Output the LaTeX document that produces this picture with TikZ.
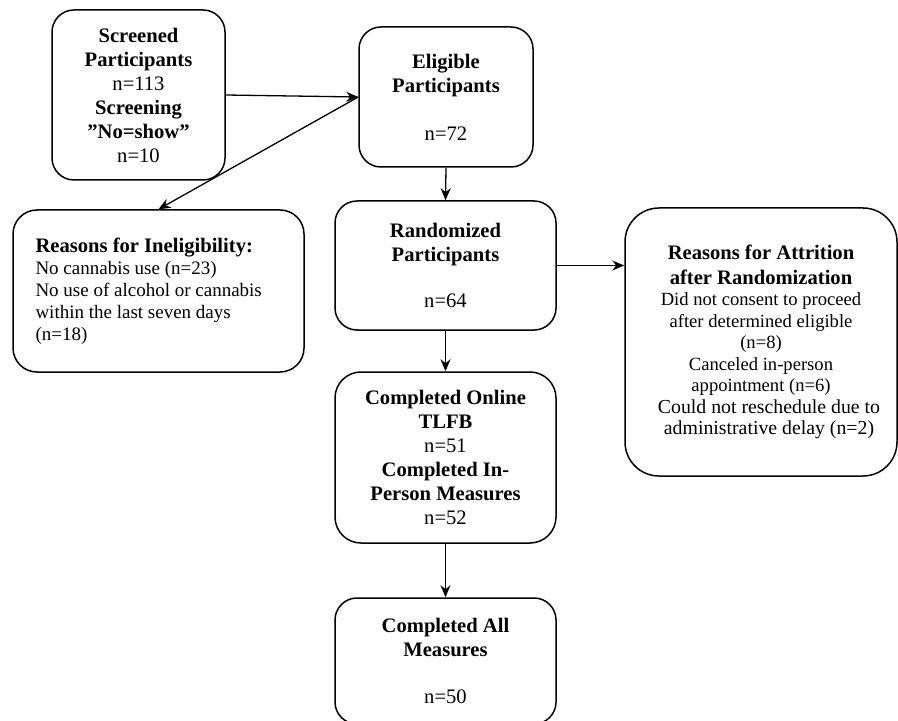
\documentclass[tikz,border=0pt]{standalone}
\usepackage{fontspec}
\setmainfont{Liberation Serif}
\usetikzlibrary{arrows.meta}

\newcommand{\hd}{\bfseries\fontsize{10.3}{12}\selectfont}
\newcommand{\tx}{\fontsize{10.3}{12}\selectfont}

\begin{document}
\begin{tikzpicture}[x=0.5pt,y=-0.5pt,
    box/.style={draw, line width=0.75pt, rounded corners=11pt, align=center,
      inner sep=0pt, font=\tx},
    arr/.style={line width=0.65pt, -{Stealth[length=6pt,width=5pt]}}]
  \useasboundingbox (0,0) rectangle (898,721);

  \node[box, minimum width=86.5pt, minimum height=85pt] (screened) at (138.5,95)
    {{\hd Screened}\\{\hd Participants}\\n=113\\{\hd Screening}\\{\hd ''No=show''}\\n=10};
  \node[box, minimum width=87pt, minimum height=70pt] (elig) at (446,97)
    {{\hd Eligible}\\{\hd Participants}\\[12pt]n=72};
  \node[box, minimum width=145.5pt, minimum height=81pt, rounded corners=12pt,
    align=flush left, text width=123pt, inner xsep=11pt] (inelig) at (158.5,291)
    {\spaceskip=0pt\xspaceskip=0pt
     {\hd Reasons for Ineligibility:\par}
     {\fontsize{9.5}{11}\selectfont No cannabis use (n=23)\\No use of alcohol or cannabis\\
      within the last seven days\\(n=18)\par}\vspace{7pt}};
  \node[box, minimum width=110.5pt, minimum height=64.5pt] (rand) at (445.5,265.5)
    {{\hd Randomized}\\{\hd Participants}\\[11pt]n=64};
  \node[box, minimum width=136pt, minimum height=134pt, rounded corners=17pt,
    align=flush center, text width=134pt] (attr) at (761,342)
    {\spaceskip=0pt\xspaceskip=0pt
     {\hd\baselineskip=12.5pt Reasons for Attrition\\after Randomization\par}
     {\fontsize{9.3}{10.75}\selectfont Did not consent to proceed\\after determined eligible\\(n=8)\\
      Canceled in-person\\appointment (n=6)\par}
     {\fontsize{9.9}{10.75}\selectfont \hspace*{8pt}Could not reschedule due to\\
      \hspace*{8pt}administrative delay (n=2)\par}};
  \node[box, minimum width=110.5pt, minimum height=85.5pt, rounded corners=13pt] (online) at (445.5,457.5)
    {{\hd Completed Online}\\{\hd TLFB}\\n=51\\{\hd Completed In-}\\{\hd Person Measures}\\n=52};
  \node[box, minimum width=110.5pt, minimum height=63pt] (all) at (445.5,661)
    {{\hd Completed All}\\{\hd Measures}\\[11.5pt]n=50};

  \draw[arr] (screened.east) -- (elig.west);
  \draw[arr] (elig.west) -- (inelig.north);
  \draw[arr] (rand.east) -- (rand.east -| attr.west);
  \foreach \a/\b in {elig/rand, rand/online, online/all}
    \draw[arr] (\a.south) -- (\b.north);
\end{tikzpicture}
\end{document}
